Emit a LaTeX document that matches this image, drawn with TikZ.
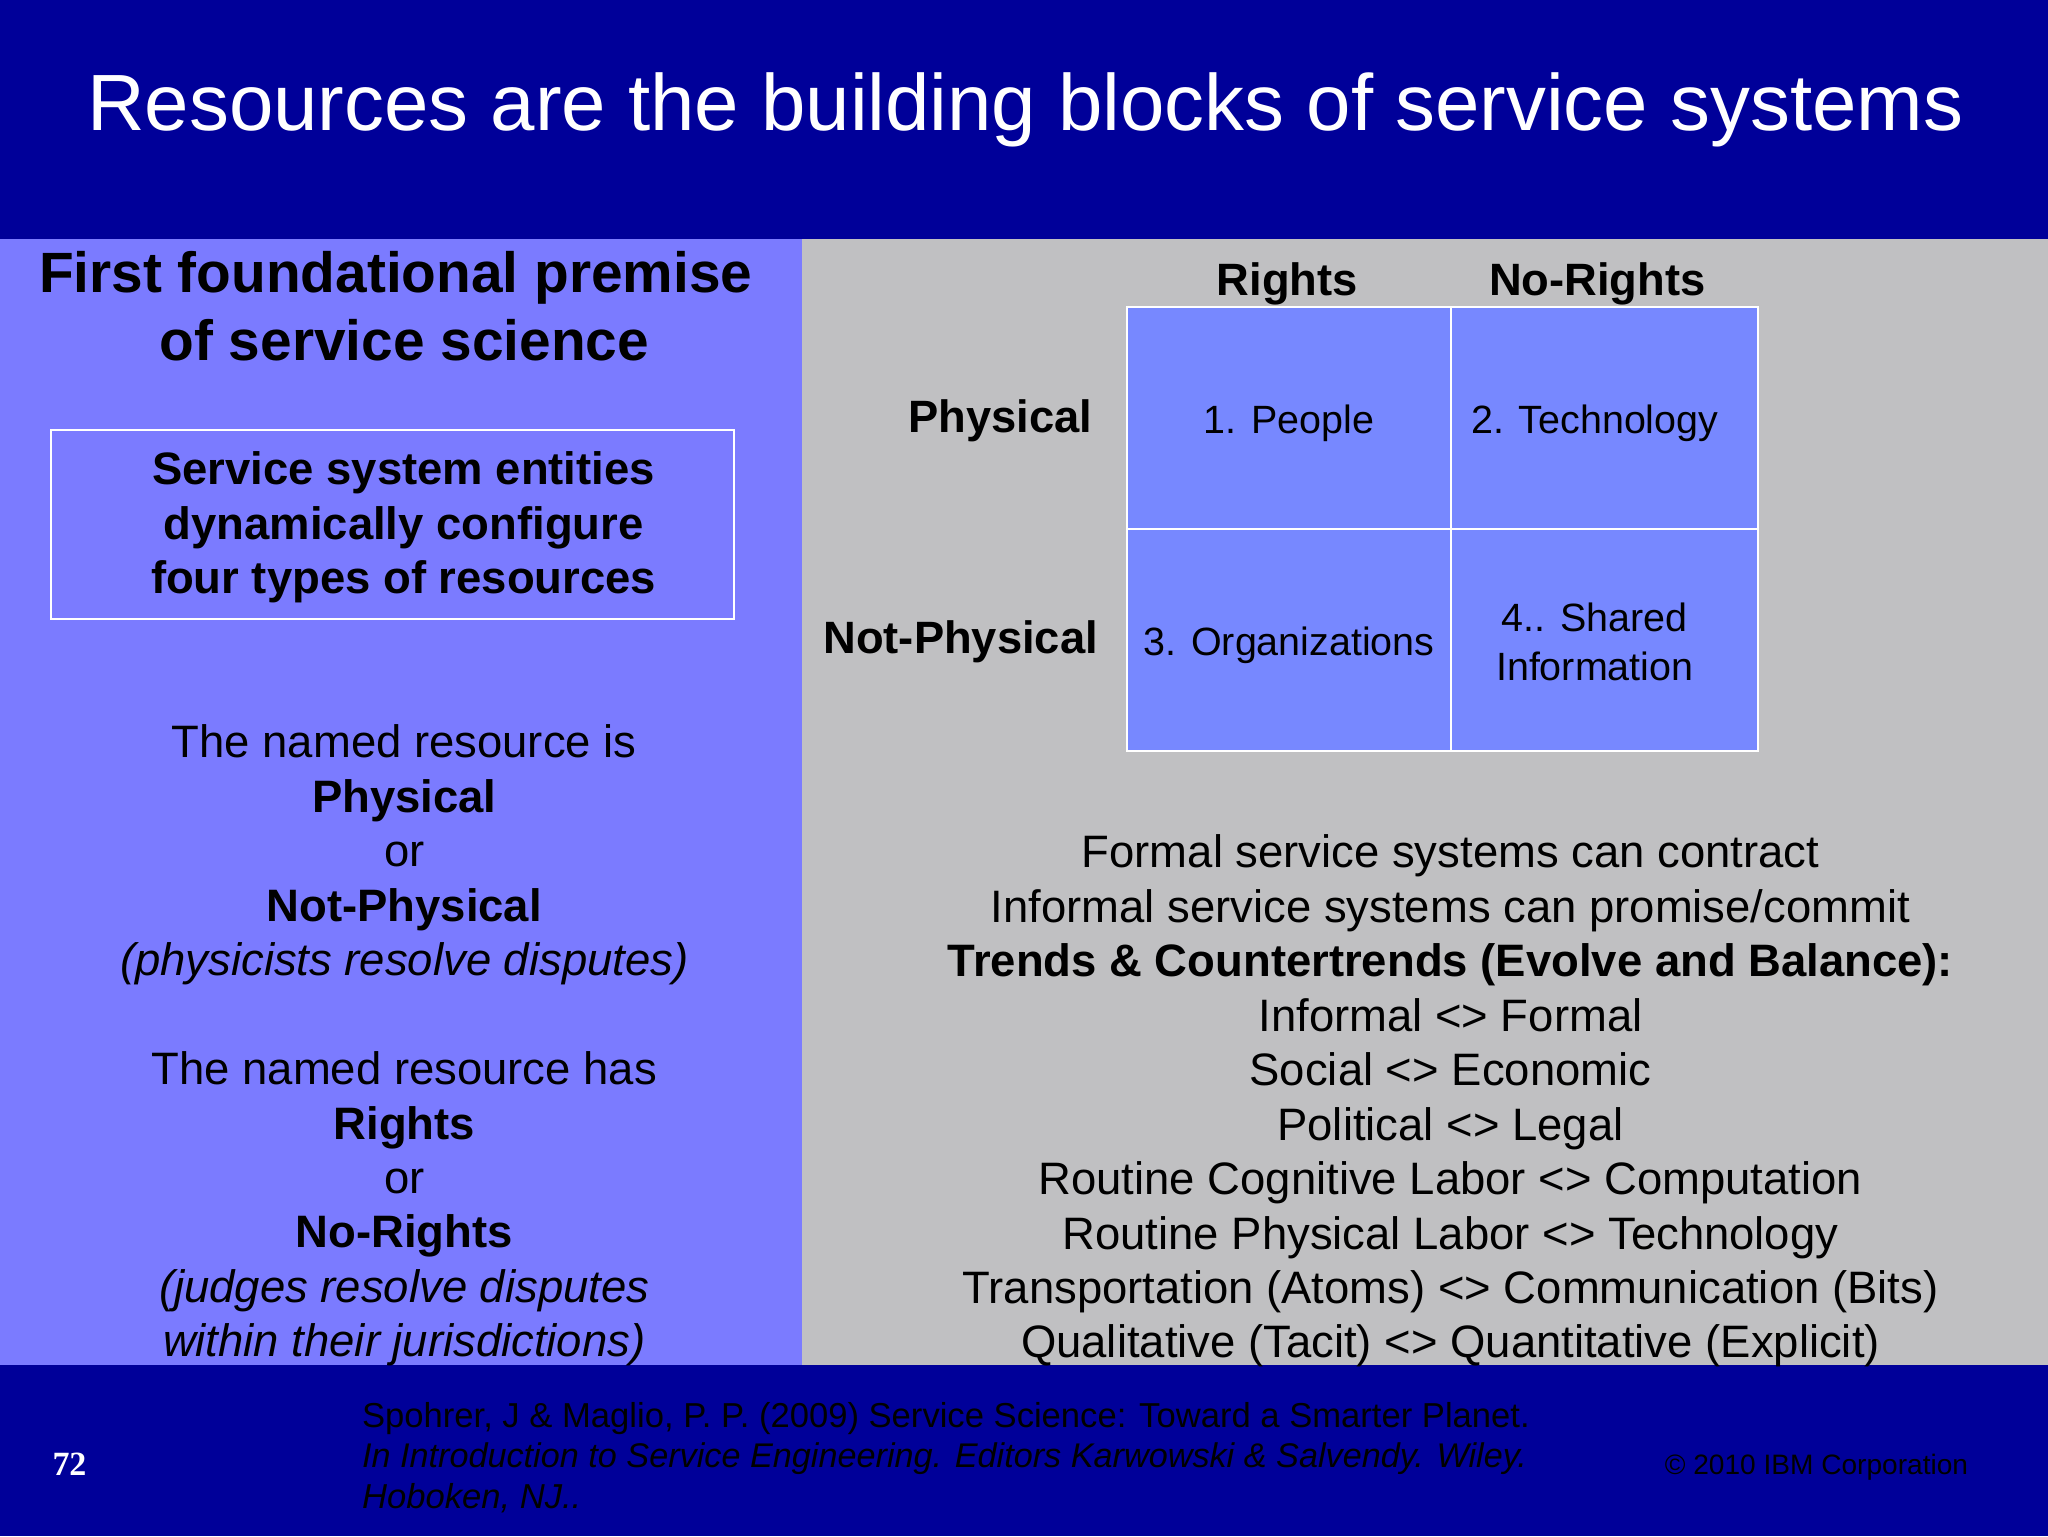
\documentclass[tikz,border=0pt]{standalone}
\usepackage{fontspec}
\setmainfont{Liberation Sans}
\newfontfamily\pagefont{Liberation Serif}
\definecolor{barblue}{HTML}{000099}
\definecolor{panelblue}{HTML}{7B7BFF}
\definecolor{panelgray}{HTML}{C0C0C2}
\definecolor{cellblue}{HTML}{7788FF}
\begin{document}
\begin{tikzpicture}[x=1pt,y=-1pt,
    cell node/.style={draw=white,line width=1.5pt,fill=cellblue,font=\fontsize{30.2}{37}\selectfont,align=center,inner sep=0pt},
    one line/.style={text height=30pt,text depth=6.5pt},
    head node/.style={font=\fontsize{34.7}{40}\selectfont\bfseries},
    body node/.style={align=center,inner sep=0pt,font=\fontsize{34.8}{41.7}\selectfont}]
                \useasboundingbox (0,0) rectangle (1568,1176);
                \fill[barblue] (0,0) rectangle (1568,1176);
                \fill[panelblue] (0,183) rectangle (614,1045);
                \fill[panelgray] (614,183) rectangle (1568,1045);

                \node[text=white,font=\fontsize{61.1}{70}\selectfont] at (785,84) (title) {Resources are the building blocks of service systems};

                \node[align=center,inner sep=0pt,font=\fontsize{43.5}{52}\selectfont\bfseries] at (303,234.5) (premise) {First foundational premise\\\hspace*{13pt}of service science};
                \node[draw=white,line width=1.2pt,minimum width=523pt,minimum height=145pt,inner sep=0pt] at (300.5,401.5) (entities) {};
                \node[body node,font=\fontsize{34.8}{41.7}\selectfont\bfseries] at (309,404) (entitiestext) {Service system entities\\dynamically configure\\four types of resources};

                \node[body node] at (309.5,800.5) (named) {The named resource is\\\textbf{Physical}\\or\\\textbf{Not-Physical}\\\textit{(physicists resolve disputes)}\\[41.7pt]The named resource has\\\textbf{Rights}\\or\\\textbf{No-Rights}\\\textit{(judges resolve disputes}\\\textit{within their jurisdictions)}};

                \node[head node] at (985.5,217) (rights) {Rights};
                \node[head node] at (1223,217) (norights) {No-Rights};
                \node[head node] at (766,322) (physical) {Physical};
                \node[head node] at (735.5,491) (notphysical) {Not-Physical};

                \node[cell node,one line,minimum width=248pt,minimum height=170pt] at (987,320) (people) {1. People};
                \node[cell node,one line,minimum width=235pt,minimum height=170pt] at (1228.5,320) (technology) {2. Technology\hspace*{15pt}};
                \node[cell node,one line,minimum width=248pt,minimum height=170pt] at (987,490) (organizations) {3. Organizations};
                \node[cell node,minimum width=235pt,minimum height=170pt] at (1228.5,490) (shared) {\rule{0pt}{25pt}4.. Shared\hspace*{15pt}\\Information\hspace*{15pt}};

                \node[body node] at (1110.5,843) (trends) {Formal service systems can contract\\Informal service systems can promise/commit\\\textbf{Trends \& Countertrends (Evolve and Balance):}\\Informal <> Formal\\Social <> Economic\\Political <> Legal\\Routine Cognitive Labor <> Computation\\Routine Physical Labor <> Technology\\Transportation (Atoms) <> Communication (Bits)\\Qualitative (Tacit) <> Quantitative (Explicit)};

                \node[anchor=west,align=left,inner sep=0pt,font=\fontsize{26.5}{31.2}\selectfont] at (277,1116) (citation) {Spohrer, J \& Maglio, P. P. (2009) Service Science: Toward a Smarter Planet.\\{\fontsize{26.2}{31.2}\selectfont\itshape In Introduction to Service Engineering. Editors Karwowski \& Salvendy. Wiley.}\\\textit{Hoboken, NJ..}};
                \node[anchor=west,inner sep=0pt,text=white,font=\fontsize{26}{28}\pagefont\bfseries] at (40,1121) (pagenum) {72};
                \node[anchor=east,inner sep=0pt,font=\fontsize{21.5}{26}\selectfont] at (1507,1123) (copyright) {© 2010 IBM Corporation};
            \end{tikzpicture}
\end{document}
